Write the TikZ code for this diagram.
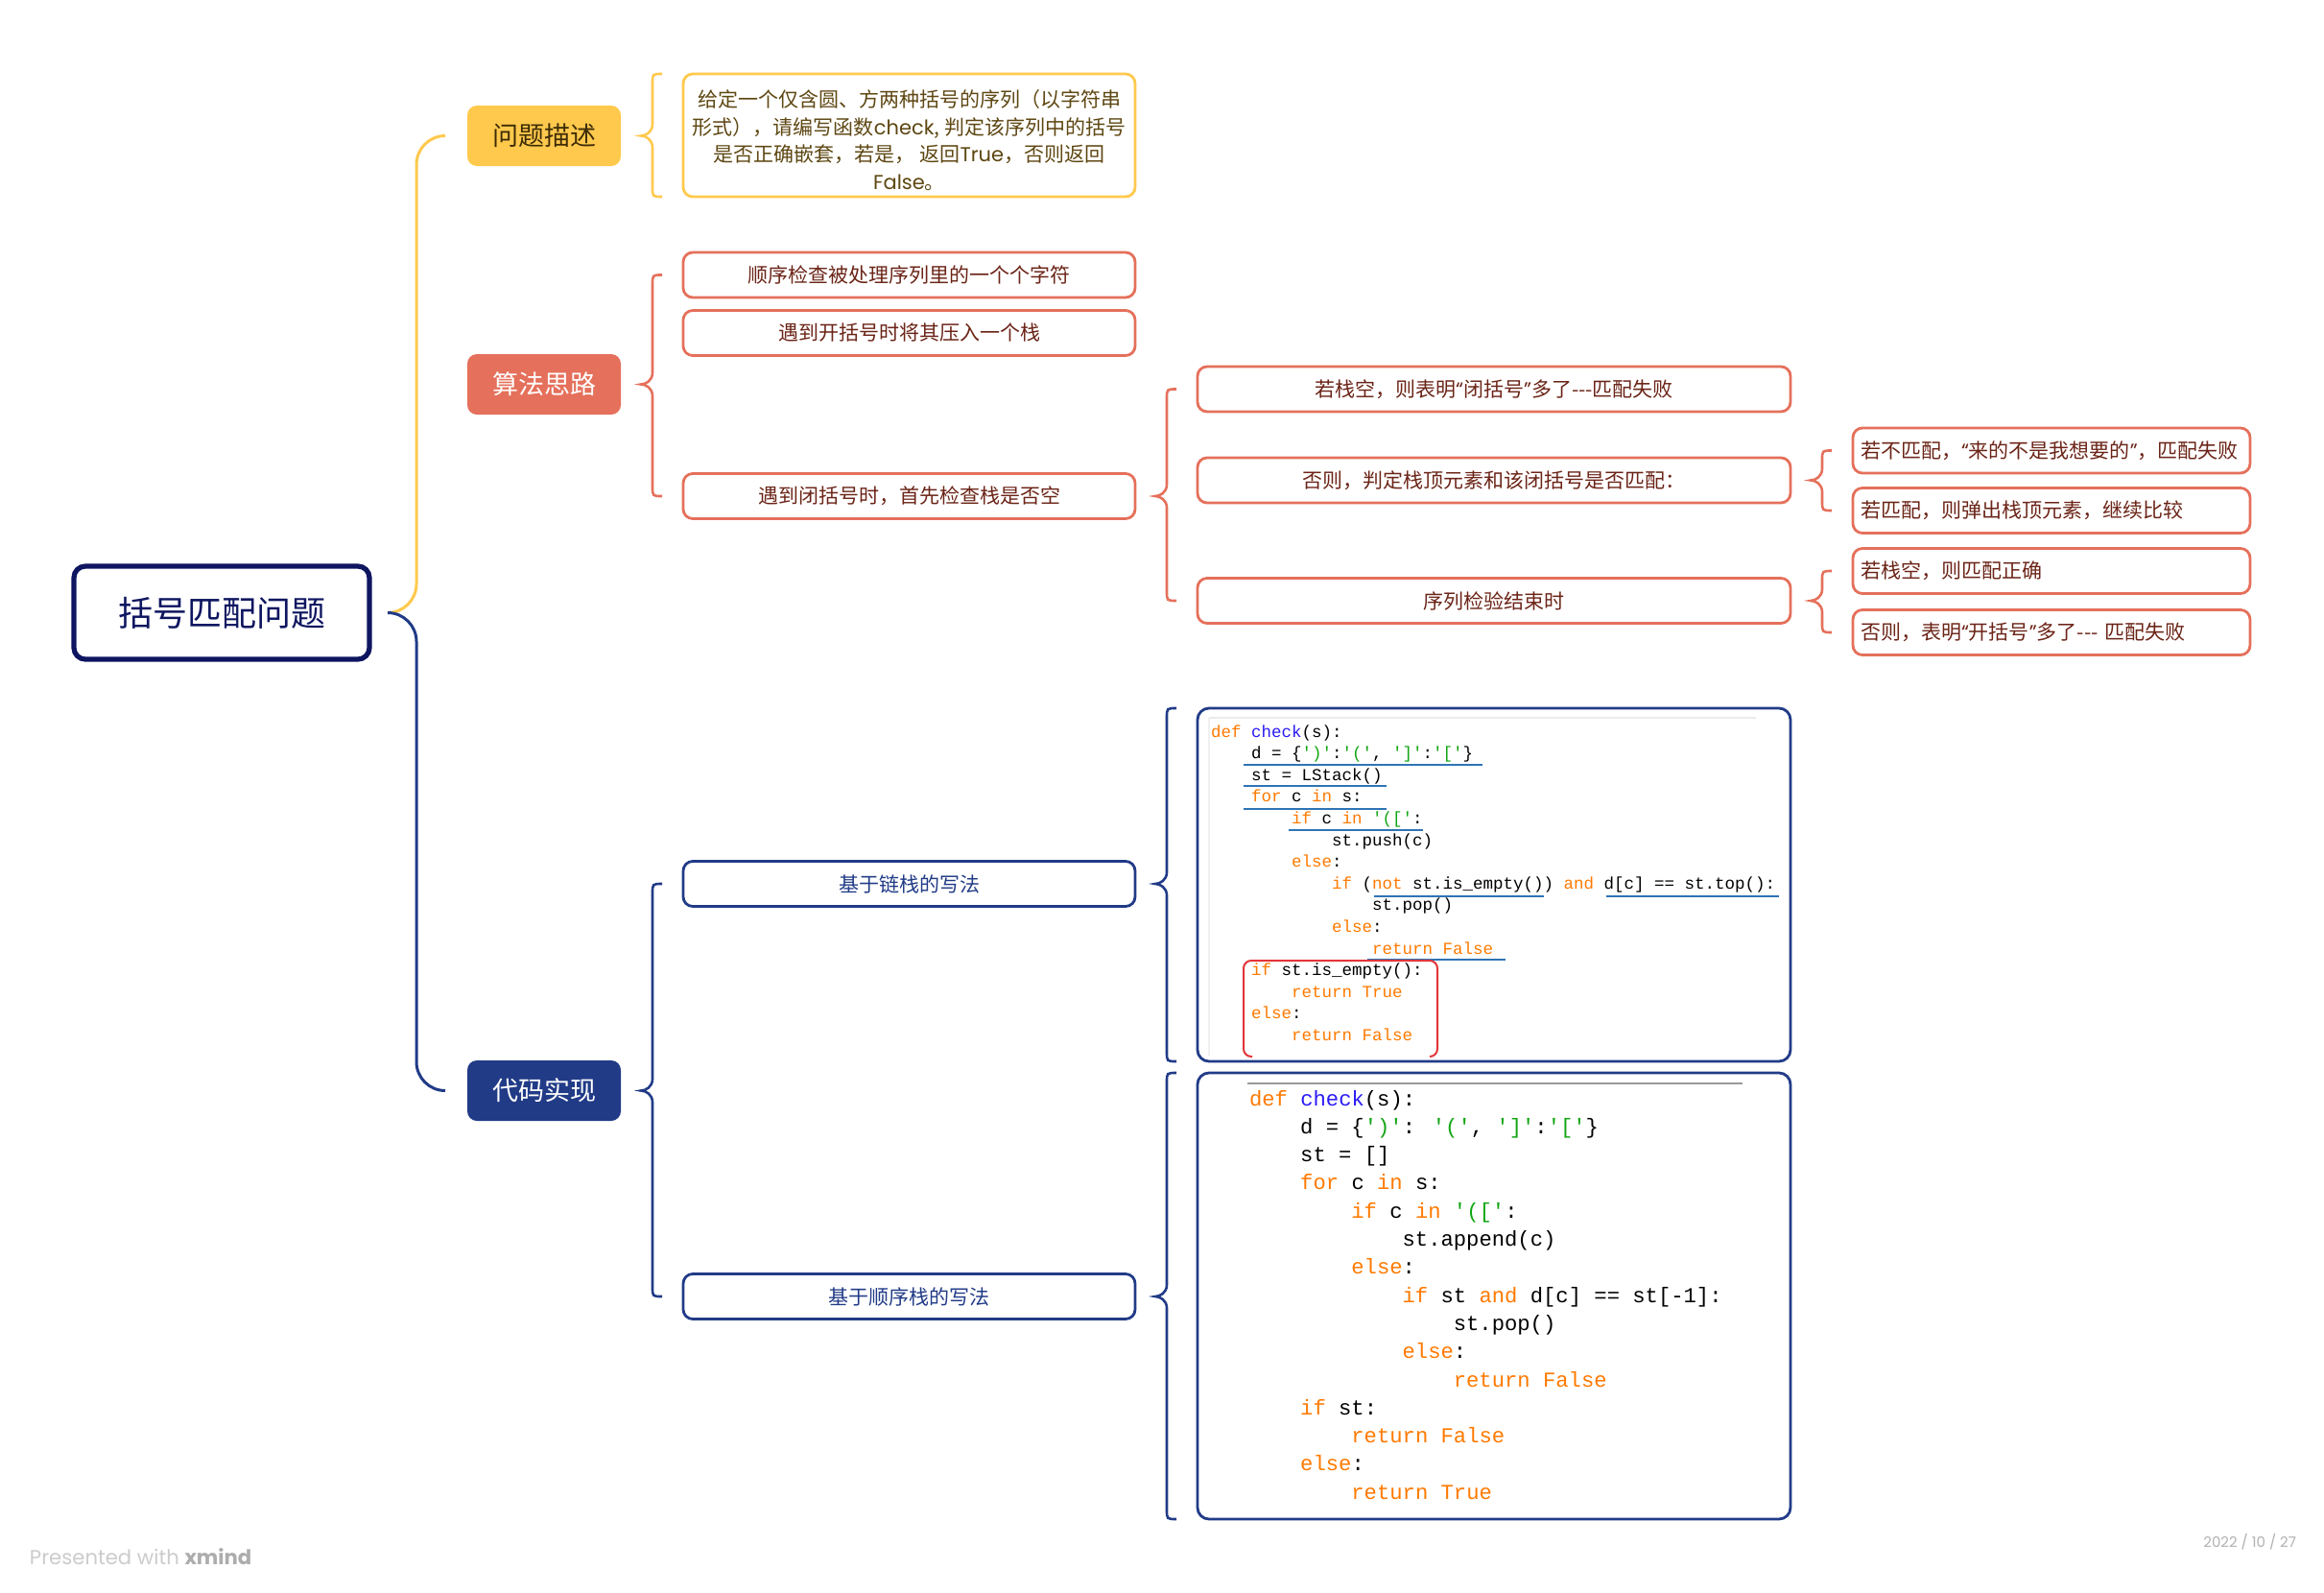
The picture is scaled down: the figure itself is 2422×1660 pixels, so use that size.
\documentclass[tikz,border=0pt]{standalone}
\usepackage{fontspec}
\usetikzlibrary{calc}
\newfontfamily\cjk{Noto Sans CJK SC}
\newfontfamily\latf{Poppins}
\newfontfamily\codef{Liberation Mono}
\definecolor{ylw}{HTML}{FFC94D}
\definecolor{org}{HTML}{E5705B}
\definecolor{blu}{HTML}{213B87}
\definecolor{navy}{HTML}{0E1660}
\definecolor{ytxt}{HTML}{5E4712}
\definecolor{wtxt}{HTML}{3D2C05}
\definecolor{otxt}{HTML}{6B2417}
\definecolor{kwc}{HTML}{FF7A00}
\definecolor{fnc}{HTML}{2B1BF5}
\definecolor{strc}{HTML}{12A512}
\definecolor{ulc}{HTML}{2F74B5}
\definecolor{redc}{HTML}{E2363A}
\newcommand\kw[1]{\textcolor{kwc}{#1}}
\newcommand\fn[1]{\textcolor{fnc}{#1}}
\newcommand\st[1]{\textcolor{strc}{#1}}
\newcommand\oq{{\latf “}}
\newcommand\cq{{\latf ”}}
\newcommand\cla[3]{\node[codeA] (k1l#1) at ({1262+#2*10.5},{768+(#1-1)*22.6}) {#3};}
\newcommand\clb[3]{\node[codeB] (k2l#1) at ({1302+#2*13.3},{1152+(#1-1)*29.3}) {#3};}
\newcommand\mbrace[4]{%
  \coordinate (bt) at ($#3+(-32,0)$);
  \coordinate (bb) at ($#4+(-32,0)$);
  \coordinate (bp) at ($(#2.east)+(21,0)$);
  \coordinate (bm) at (bt |- bp);
  \draw[#1, line width=1.3pt] ($(bt)+(10,0)$) .. controls (bt) .. ($(bt)+(0,10)$) -- ($(bm)+(0,-12)$)
    .. controls ($(bm)+(0,-4)$) and ($(bp)+(5,0)$) .. (bp)
    .. controls ($(bp)+(5,0)$) and ($(bm)+(0,4)$) .. ($(bm)+(0,12)$) -- ($(bb)+(0,-10)$)
    .. controls (bb) .. ($(bb)+(10,0)$);
}
\begin{document}
\begin{tikzpicture}[x=0.5pt,y=-0.5pt,
  every node/.style={inner sep=0pt, outer sep=0pt},
  root/.style={draw=navy, line width=2.6pt, rounded corners=6pt, minimum width=154pt, minimum height=48.5pt, text=navy, font=\cjk\fontsize{18}{22}\selectfont},
  main/.style={rounded corners=5pt, minimum width=80pt, minimum height=31.5pt, font=\cjk\fontsize{13.5}{16}\selectfont},
  leaf/.style={draw=#1, line width=1.4pt, rounded corners=5pt, minimum height=23.5pt, font=\cjk\fontsize{10.5}{14.35}\selectfont},
  codebox/.style={draw=blu, line width=1.4pt, rounded corners=6pt, minimum width=309pt},
  codeA/.style={anchor=base west, font=\codef\fontsize{8.75}{10}\selectfont},
  codeB/.style={anchor=base west, font=\codef\fontsize{11.1}{13}\selectfont},
  branch/.style={line width=1.5pt, rounded corners=15pt},
  uline/.style={ulc, line width=1.4pt}]
\fill[white] (0,0) rectangle (2422,1660);
\useasboundingbox (0,0) rectangle (2422,1660);

% main nodes
\node[root] (root) at (231,638.5) {括号匹配问题};
\node[main, fill=ylw, text=wtxt] (wt) at (567,141.5) {问题描述};
\node[main, fill=org, text=white] (sf) at (567,400.5) {算法思路};
\node[main, fill=blu, text=white] (dm) at (567,1136.5) {代码实现};

% branches
\coordinate (rs) at ($(root.east)+(19,0)$);
\draw[branch, ylw] (rs) -- ++(30,0) |- ($(wt.west)+(-23,0)$);
\draw[branch, blu] (rs) -- ++(30,0) |- ($(dm.west)+(-23,0)$);

% problem description
\node[leaf=ylw, minimum width=235.5pt, minimum height=64pt] (desc) at (947.5,141) {};
\node[text=ytxt, align=center, font=\cjk\fontsize{10.5}{14.35}\selectfont] (desct) at (947.5,146)
 {给定一个仅含圆、方两种括号的序列（以字符串\\形式），请编写函数{\latf check}, 判定该序列中的括号\\是否正确嵌套，若是， 返回{\latf True}，否则返回\\{\latf False}。};

% algorithm
\node[leaf=org, minimum width=235.5pt, text=otxt] (a1) at (947.5,286.5) {顺序检查被处理序列里的一个个字符};
\node[leaf=org, minimum width=235.5pt, text=otxt] (a2) at (947.5,347) {遇到开括号时将其压入一个栈};
\node[leaf=org, minimum width=235.5pt, text=otxt] (a3) at (947.5,517) {遇到闭括号时，首先检查栈是否空};
\node[leaf=org, minimum width=309pt, text=otxt] (b1) at (1557,405.5) {若栈空，则表明\oq 闭括号\cq 多了---匹配失败};
\node[leaf=org, minimum width=309pt, text=otxt] (b2) at (1557,500.5) {否则，判定栈顶元素和该闭括号是否匹配：};
\node[leaf=org, minimum width=309pt, text=otxt] (b3) at (1557,626) {序列检验结束时};
\tikzset{cbox/.style={leaf=org, text=otxt, text width=199pt, inner xsep=4pt, align=left}}
\node[cbox] (c1) at (2138,469.5) {若不匹配，\oq 来的不是我想要的\cq ，匹配失败};
\node[cbox] (c2) at (2138,532) {若匹配，则弹出栈顶元素，继续比较};
\node[cbox] (c3) at (2138,595) {若栈空，则匹配正确};
\node[cbox] (c4) at (2138,659) {否则，表明\oq 开括号\cq 多了--- 匹配失败};

% code
\node[leaf=blu, minimum width=235.5pt, text=blu] (d1) at (947.5,921) {基于链栈的写法};
\node[leaf=blu, minimum width=235.5pt, text=blu] (d2) at (947.5,1351) {基于顺序栈的写法};
\node[codebox, minimum height=184pt] (k1) at (1557,922) {};
\node[codebox, minimum height=232.5pt] (k2) at (1557,1350.5) {};

% braces
\mbrace{ylw}{wt}{(desc.north west)}{(desc.south west)}
\mbrace{org}{sf}{(a1.west)}{(a3.west)}
\mbrace{org}{a3}{(b1.west)}{(b3.west)}
\mbrace{org}{b2}{(c1.west)}{(c2.west)}
\mbrace{org}{b3}{(c3.west)}{(c4.west)}
\mbrace{blu}{dm}{(d1.west)}{(d2.west)}
\mbrace{blu}{d1}{(k1.north west)}{(k1.south west)}
\mbrace{blu}{d2}{(k2.north west)}{(k2.south west)}

% code block 1 (linked stack)
\draw[black!8, line width=0.8pt] (1260,748) -- (1830,748);
\draw[black!6, line width=0.8pt] (1260,748) -- (1260,1100);
\cla{1}{0}{\kw{def} \fn{check}(s):}
\cla{2}{4}{d = \{\st{')'}:\st{'('}, \st{']'}:\st{'['}\}}
\cla{3}{4}{st = LStack()}
\cla{4}{4}{\kw{for} c \kw{in} s:}
\cla{5}{8}{\kw{if} c \kw{in} \st{'(['}:}
\cla{6}{12}{st.push(c)}
\cla{7}{8}{\kw{else}:}
\cla{8}{12}{\kw{if} (\kw{not} st.is\_empty()) \kw{and} d[c] == st.top():}
\cla{9}{16}{st.pop()}
\cla{10}{12}{\kw{else}:}
\cla{11}{16}{\kw{return} \kw{False}}
\cla{12}{4}{\kw{if} st.is\_empty():}
\cla{13}{8}{\kw{return} \kw{True}}
\cla{14}{4}{\kw{else}:}
\cla{15}{8}{\kw{return} \kw{False}}
\draw[uline] (1296,797) -- (1545,797);
\draw[uline] (1296,819) -- (1445,819);
\draw[uline] (1296,843) -- (1445,843);
\draw[uline] (1343,865) -- (1483,865);
\draw[uline] (1432,934) -- (1609,934);
\draw[uline] (1674,934) -- (1854,934);
\draw[uline] (1425,1000) -- (1569,1000);
\draw[redc, line width=1pt, rounded corners=4pt] (1305,1101) -- (1296,1101) -- (1296,1001) -- (1498,1001) -- (1498,1101) -- (1490,1101);

% code block 2 (sequential stack)
\draw[black!40, line width=0.6pt] (1300,1129) -- (1816,1129);
\clb{1}{0}{\kw{def} \fn{check}(s):}
\clb{2}{4}{d = \{\st{')'}: \st{'('}, \st{']'}:\st{'['}\}}
\clb{3}{4}{st = []}
\clb{4}{4}{\kw{for} c \kw{in} s:}
\clb{5}{8}{\kw{if} c \kw{in} \st{'(['}:}
\clb{6}{12}{st.append(c)}
\clb{7}{8}{\kw{else}:}
\clb{8}{12}{\kw{if} st \kw{and} d[c] == st[-1]:}
\clb{9}{16}{st.pop()}
\clb{10}{12}{\kw{else}:}
\clb{11}{16}{\kw{return} \kw{False}}
\clb{12}{4}{\kw{if} st:}
\clb{13}{8}{\kw{return} \kw{False}}
\clb{14}{4}{\kw{else}:}
\clb{15}{8}{\kw{return} \kw{True}}

% footer
\node[anchor=west, text=black!20, font=\latf\fontsize{10.6}{12}\selectfont] (foot) at (31,1622) {Presented with \textcolor{black!32}{\textbf{xmind}}};
\node[anchor=east, text=black!30, font=\latf\fontsize{7.5}{8}\selectfont] (date) at (2393,1607) {2022 / 10 / 27};
\end{tikzpicture}
\end{document}
